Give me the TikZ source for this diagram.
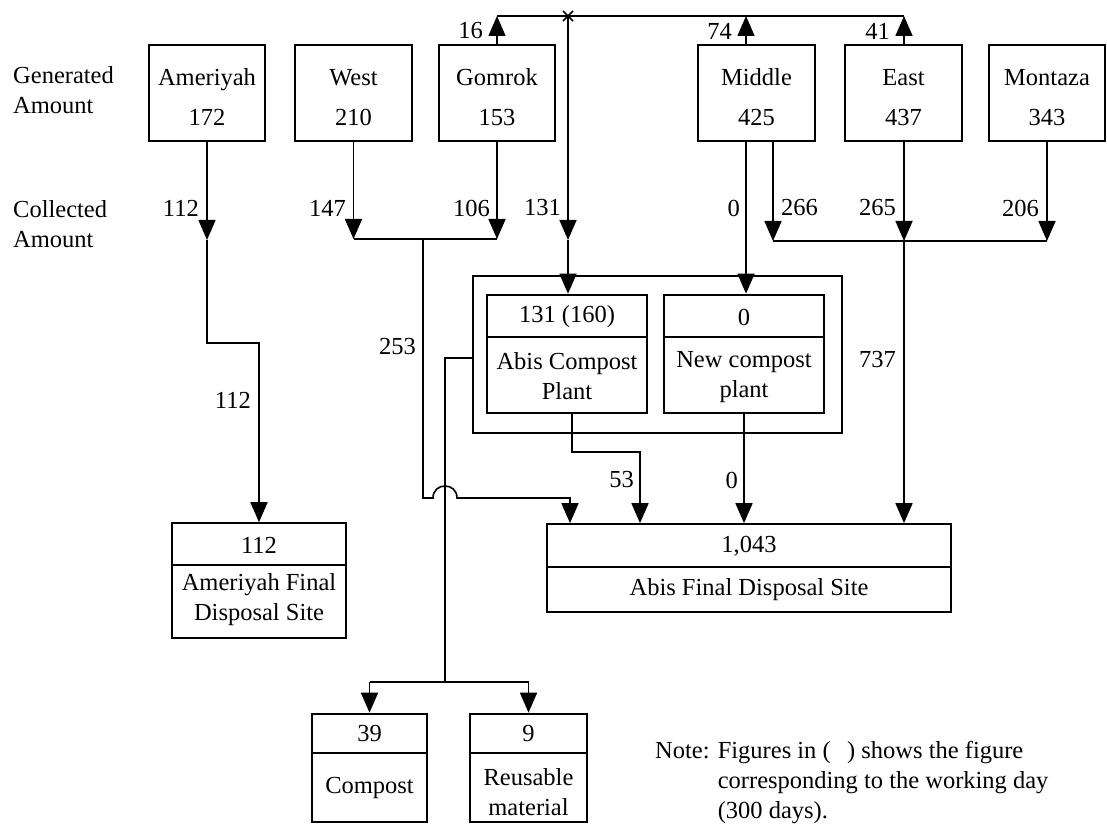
\documentclass[tikz,border=0pt]{standalone}
\usepackage{fontspec}
\setmainfont{Liberation Serif}
\usetikzlibrary{arrows.meta}
\newcommand{\figfont}{\fontsize{24.5}{30}\selectfont}
\newcommand{\tstrut}{\rule{0pt}{25pt}}
\begin{document}
\begin{tikzpicture}[x=1pt,y=-1pt,
  every node/.style={font=\figfont, inner sep=0pt},
  hbox/.style={draw, line width=2.6pt, align=center},
  tbox/.style={draw, line width=1.6pt},
  frm/.style={draw, line width=1.4pt},
  ln/.style={line width=1.6pt},
  arr/.style={line width=1.6pt, -{Triangle[width=17pt,length=20pt]}},
  num/.style={anchor=east},
  numw/.style={anchor=west},
  txt/.style={align=center}
]
\useasboundingbox (0,0) rectangle (1107,826);

% row labels
\node[align=left, anchor=west] (gen) at (13,90) {Generated\\Amount};
\node[align=left, anchor=west] (col) at (13,224) {Collected\\Amount};

% district boxes
\node[hbox, minimum width=116pt, minimum height=96pt] (ame) at (207,93) {\tstrut Ameriyah\\[10pt]172};
\node[hbox, minimum width=117pt, minimum height=96pt] (wst) at (353.5,93) {\tstrut West\\[10pt]210};
\node[hbox, minimum width=116pt, minimum height=96pt] (gom) at (497,93) {\tstrut Gomrok\\[10pt]153};
\node[hbox, minimum width=117pt, minimum height=96pt] (mid) at (756.5,93) {\tstrut Middle\\[10pt]425};
\node[hbox, minimum width=117pt, minimum height=96pt] (est) at (903.5,93) {\tstrut East\\[10pt]437};
\node[hbox, minimum width=116pt, minimum height=96pt] (mon) at (1047,93) {\tstrut Montaza\\[10pt]343};

% compost plants frame
\node[frm, minimum width=369pt, minimum height=157pt] (frame) at (657.5,354.5) {};
\node[hbox, minimum width=160pt, minimum height=118pt] (cmp) at (567,354) {};
\node[hbox, minimum width=160pt, minimum height=118pt] (ncp) at (744,354) {};
\draw[line width=1.4pt] (cmp.west |- 0,337) -- (cmp.east |- 0,337);
\draw[line width=1.4pt] (ncp.west |- 0,337) -- (ncp.east |- 0,337);
\node (cmpn) at (567,317) {131 (160)};
\node[txt] (cmpt) at (567,376) {Abis Compost\\Plant};
\node (ncpn) at (744,317) {0};
\node[txt] (ncpt) at (744,377) {New compost\\plant};

% final disposal sites
\node[tbox, minimum width=174pt, minimum height=115pt] (afd) at (259,580.5) {};
\draw[line width=1.4pt] (afd.west |- 0,565) -- (afd.east |- 0,565);
\node (afdn) at (259,545) {112};
\node[txt] (afdt) at (259,600) {Ameriyah Final\\Disposal Site};

\node[tbox, minimum width=404pt, minimum height=88pt] (abf) at (749,568) {};
\draw[line width=1.4pt] (abf.west |- 0,567) -- (abf.east |- 0,567);
\node (abfn) at (749,546) {1,043};
\node (abft) at (749,590) {Abis Final Disposal Site};

% products
\node[hbox, minimum width=115pt, minimum height=108pt] (cps) at (369.5,768) {};
\draw[line width=1.4pt] (cps.west |- 0,753) -- (cps.east |- 0,753);
\node (cpsn) at (369.5,734) {39};
\node (cpst) at (369.5,788) {Compost};
\node[hbox, minimum width=117pt, minimum height=108pt] (reu) at (528.5,768) {};
\draw[line width=1.4pt] (reu.west |- 0,753) -- (reu.east |- 0,753);
\node (reun) at (528.5,734) {9};
\node[txt] (reut) at (528.5,792) {Reusable\\material};

% top collection line
\coordinate (tg) at (497,16);
\coordinate (tx) at (568,16);
\coordinate (tm) at (746,16);
\coordinate (te) at (904,16);
\draw[ln] (tg) -- (te);
\draw[arr] (gom.north) -- (tg);
\draw[arr] (tm |- mid.north) -- (tm);
\draw[arr] (te |- est.north) -- (te);
\draw[ln] (tx) +(-5,-5) -- +(5,5) +(-5,5) -- +(5,-5);
\node[num] (l16) at (483,31) {16};
\node[num] (l74) at (732,31) {74};
\node[num] (l41) at (890,31) {41};

% to Abis compost plant
\coordinate (c131) at (568,240);
\draw[arr] (tx) -- (c131);
\draw[arr] (c131) -- (tx |- cmp.north);
\node[num] (l131) at (561,208) {131};

% Ameriyah
\coordinate (a1) at (207,240);
\coordinate (a2) at (207,343);
\coordinate (a3) at (259,343);
\draw[arr] (ame.south) -- (a1);
\draw[arr] (a1) -- (a2) -- (a3) -- (afd.north);
\node[num] (l112a) at (199,208) {112};
\node[num] (l112b) at (251,400) {112};

% West + Gomrok
\coordinate (w1) at (353.5,239);
\coordinate (g1) at (497,239);
\coordinate (j0) at (423,239);
\coordinate (j1) at (423,498);
\coordinate (j4) at (570,498);
\draw[arr] (wst.south) -- (w1);
\draw[arr] (gom.south) -- (g1);
\draw[ln] (w1) -- (g1);
\draw[arr] (j0) -- (j1) -- (433,498) .. controls (433,482) and (457,482) .. (457,498) -- (j4) -- (j4 |- abf.north);
\node[num] (l147) at (346,208) {147};
\node[num] (l106) at (490,208) {106};
\node[num] (l253) at (416,347) {253};

% Middle / East / Montaza
\coordinate (m0) at (746,141);
\coordinate (m1) at (773,241);
\coordinate (e1) at (904,241);
\coordinate (n1) at (1047,241);
\draw[arr] (m0) -- (m0 |- ncp.north);
\draw[arr] (m1 |- mid.south) -- (m1);
\draw[arr] (te |- est.south) -- (e1);
\draw[arr] (mon.south) -- (n1);
\draw[ln] (m1) -- (n1);
\draw[arr] (e1) -- (e1 |- abf.north);
\node[num] (l0a) at (740,208) {0};
\node[numw] (l266) at (781,208) {266};
\node[num] (l265) at (896,208) {265};
\node[num] (l206) at (1039,208) {206};
\node[num] (l737) at (896,360) {737};

% plant outputs
\coordinate (o1) at (572,452);
\coordinate (o2) at (640,452);
\draw[arr] (o1 |- cmp.south) -- (o1) -- (o2) -- (o2 |- abf.north);
\draw[arr] (ncp.south) -- (ncp.south |- abf.north);
\node[num] (l53) at (634,480) {53};
\node[num] (l0b) at (738,480) {0};

% compost & recycling branch
\coordinate (b0) at (473,358);
\coordinate (b1) at (445,358);
\coordinate (b2) at (445,682);
\draw[ln] (b0) -- (b1) -- (b2);
\draw[ln] (cps.north |- b2) -- (reu.north |- b2);
\draw[arr] (cps.north |- b2) -- (cps.north);
\draw[arr] (reu.north |- b2) -- (reu.north);

% note
\node[anchor=north west, align=left] (note) at (655,741) {Note: Figures in (\enspace\,) shows the figure\\\hphantom{Note: }corresponding to the working day\\\hphantom{Note: }(300 days).};
\end{tikzpicture}
\end{document}
